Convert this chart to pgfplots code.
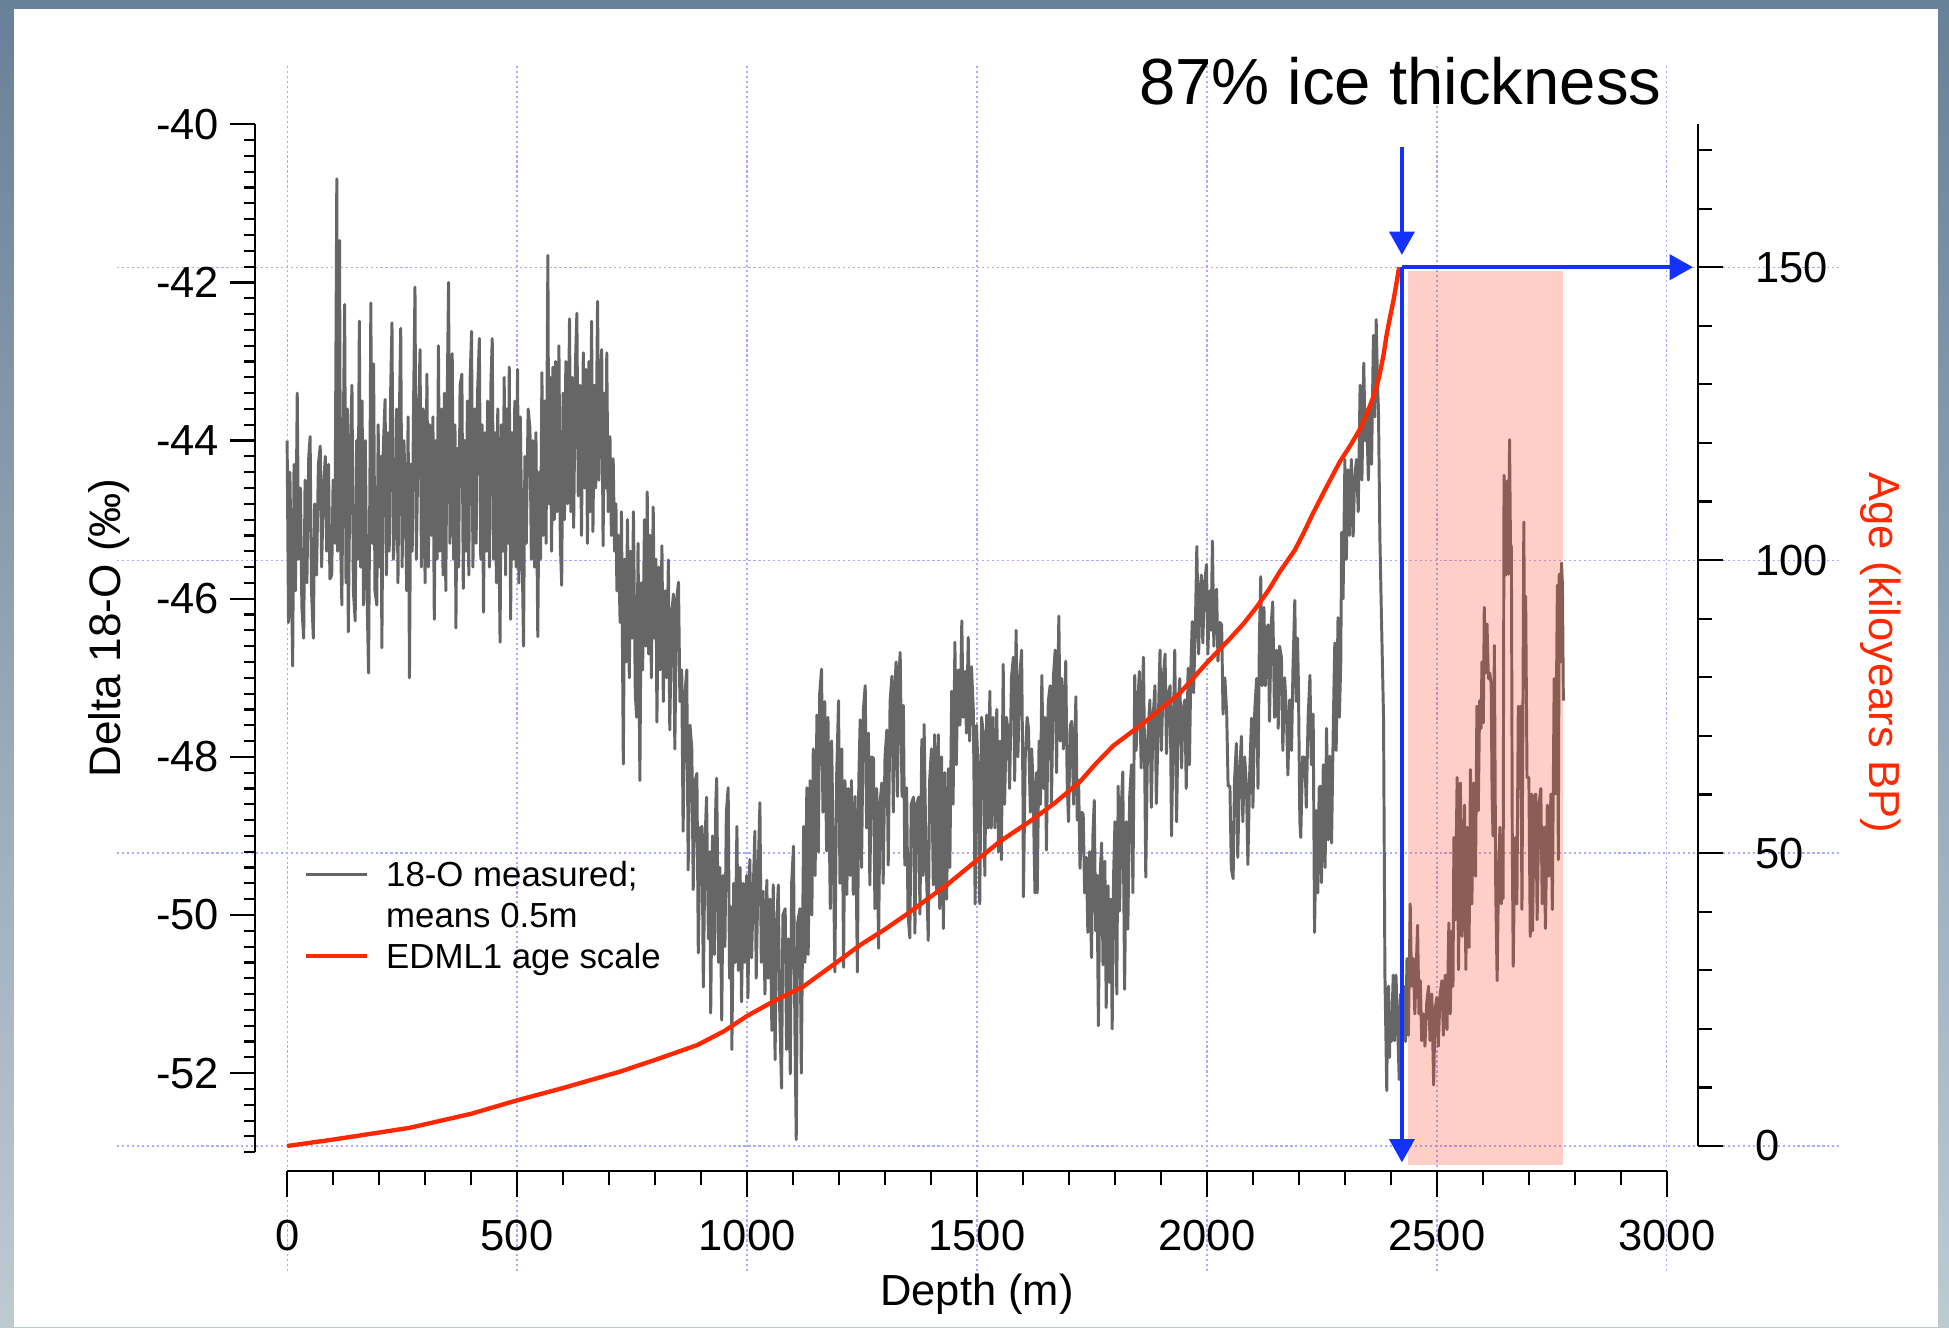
\documentclass[border=0pt]{standalone}
\usepackage{fontspec}
\setmainfont{Liberation Sans}
\usepackage{pgfplots}
\pgfplotsset{compat=1.18}
\usetikzlibrary{arrows.meta}
\definecolor{bgtop}{RGB}{104,128,152}
\definecolor{bgbot}{RGB}{190,202,210}
\definecolor{gridc}{RGB}{170,170,255}
\definecolor{dgray}{RGB}{102,102,102}
\definecolor{agered}{RGB}{255,40,0}
\definecolor{arrowblue}{RGB}{20,50,255}
\definecolor{pinkfill}{RGB}{255,67,35}
\tikzset{gridl/.style={color=gridc, line width=0.4pt, dash pattern=on 0.7pt off 0.9pt},
  barrow/.style={arrowblue, line width=1.3pt, -{Triangle[width=8pt,length=7.5pt]}}}
\pgfplotsset{
  myax/.style={scale only axis, tick align=outside,
    axis line style={-, line width=0.7pt, black},
    every tick/.style={black, line width=0.7pt},
    /pgf/number format/assume math mode=true,
    /pgf/number format/set thousands separator={},
    tick label style={font=\fontsize{14}{16}\selectfont},
    label style={font=\fontsize{14}{16}\selectfont}}
}
\begin{document}
\begin{tikzpicture}
\shade[top color=bgtop,bottom color=bgbot] (0pt,0pt) rectangle (627.2pt,427.2pt);
\fill[white] (4.4pt,0pt) rectangle (623.6pt,424.4pt);

% grid axis
\begin{axis}[at={(92.4pt,58.4pt)},anchor=south west,scale only axis,width=454pt,height=328.8pt,
  xmin=0,xmax=3067.6,ymin=0,ymax=174.4,hide axis,clip=false]
\pgfplotsinvokeforeach{0,500,1000,1500,2000,2500,3000}{\draw[gridl] (axis cs:#1,-21.4) -- (axis cs:#1,184.8);}
\pgfplotsinvokeforeach{0,50,100,150}{\draw[gridl] (axis cs:-370,#1) -- (axis cs:3376,#1);}
\end{axis}

% left axis with isotope data
\begin{axis}[myax, at={(82pt,56.4pt)},anchor=south west,width=454.4pt,height=330.8pt,
  xmin=-70.27,xmax=3000,ymin=-53,ymax=-40,
  hide x axis, axis y line*=left,
  ytick={-52,-50,...,-40}, minor ytick={-53,-52.8,...,-40.1},
  major tick length=8pt, minor tick length=3.6pt,
  ylabel={Delta 18-O (‰)},
  ylabel style={font=\fontsize{14.2}{16}\selectfont, at={(axis description cs:-0.103,0.51)}, anchor=center},
  legend style={draw=none, fill=none, at={(axis description cs:0.0345,0.291)}, anchor=north west,
    font=\fontsize{11.2}{13.2}\selectfont, row sep=0pt, inner sep=0pt, column sep=5.4pt,
    nodes={inner sep=0pt, text height=10.6pt, text depth=2.6pt}},
  legend cell align=left,
  legend image code/.code={\draw[#1] (0pt,0pt) -- (19.6pt,0pt);}]
\addplot[dgray, line width=0.95pt, line join=round] coordinates {
(0,-44.0)(3,-46.3)(6,-44.4)(9,-45.6)(12,-46.85)(15,-44.3)(18,-45.9)(22,-43.4)(25,-45.5)(29,-44.6)(32,-46.1)(36,-46.5)(39,-44.5)(43,-45.8)(47,-44.2)(50,-43.95)(53,-45.9)(57,-46.5)(60,-44.8)(64,-45.7)(68,-44.3)(72,-44.07)(75,-45.6)(79,-44.6)(83,-44.2)(86,-45.4)(90,-44.3)(93,-45.75)(97,-45.7)(100,-44.5)(104,-45.3)(108,-40.69)(110,-45.4)(114,-41.47)(116,-45.2)(119,-46.08)(122,-44.0)(125,-42.28)(128,-45.8)(131,-43.6)(133,-46.42)(137,-44.2)(141,-43.3)(144,-45.9)(148,-46.28)(151,-44.0)(154,-45.5)(157,-42.49)(160,-45.6)(163,-43.5)(166,-46.08)(170,-44.0)(173,-45.7)(177,-46.94)(180,-44.5)(182,-42.26)(185,-45.3)(188,-43.03)(191,-45.9)(195,-46.08)(198,-43.8)(201,-45.6)(204,-44.2)(206,-46.62)(209,-44.1)(213,-43.48)(216,-45.7)(219,-43.9)(222,-45.4)(225,-43.4)(228,-42.51)(231,-45.5)(235,-45.0)(238,-43.6)(241,-45.8)(244,-43.7)(247,-42.58)(250,-45.6)(254,-44.0)(257,-44.7)(260,-45.9)(263,-43.7)(266,-47.0)(269,-44.3)(272,-45.4)(275,-43.5)(278,-42.06)(281,-45.5)(285,-43.9)(289,-42.85)(292,-45.6)(296,-43.6)(300,-45.8)
(304,-43.16)(307,-45.6)(310,-43.8)(314,-45.2)(317,-43.7)(320,-46.26)(323,-44.0)(326,-45.5)(329,-42.8)(332,-45.4)(336,-43.6)(339,-45.7)(342,-43.4)(345,-45.9)(348,-43.5)(351,-42.0)(354,-45.3)(357,-43.9)(359,-42.9)(362,-45.5)(365,-43.8)(367,-46.37)(370,-44.1)(373,-45.6)(376,-43.3)(380,-43.16)(383,-45.87)(386,-44.0)(389,-45.4)(392,-43.5)(395,-45.7)(398,-43.2)(401,-42.62)(404,-45.6)(408,-43.6)(411,-45.3)(414,-43.4)(418,-42.71)(421,-45.5)(424,-43.8)(427,-46.17)(430,-43.9)(433,-45.4)(436,-43.5)(440,-45.6)(443,-43.3)(446,-42.71)(449,-45.5)(452,-43.9)(455,-45.8)(458,-43.6)(461,-45.5)(463,-46.55)(466,-43.8)(469,-45.4)(472,-43.2)(475,-45.7)(478,-43.6)(481,-45.3)(483,-43.07)(486,-46.26)(489,-43.9)(492,-45.5)(495,-43.5)(498,-45.6)(501,-43.1)(504,-45.8)(507,-43.7)(511,-45.4)(514,-46.6)(517,-44.2)(520,-45.3)(524,-43.6)(528,-43.84)(531,-45.5)(534,-44.0)(538,-45.6)(541,-43.9)(545,-46.48)(548,-44.4)(551,-45.5)(554,-43.14)(557,-45.2)(560,-43.5)(563,-45.3)(567,-41.66)(569,-44.8)(572,-43.2)(575,-45.4)(578,-43.07)(581,-45.0)(584,-43.0)(587,-44.9)(591,-42.8)(594,-45.3)(597,-45.83)(600,-43.4)
(603,-45.0)(606,-43.0)(610,-44.8)(614,-42.46)(617,-44.9)(620,-43.2)(623,-45.1)(627,-43.0)(630,-42.39)(633,-44.7)(637,-43.3)(640,-45.2)(644,-42.89)(647,-44.6)(650,-43.1)(653,-45.3)(656,-43.0)(659,-44.9)(662,-42.49)(665,-45.15)(668,-43.3)(671,-44.6)(675,-42.24)(678,-44.5)(681,-43.2)(684,-42.85)(687,-45.33)(690,-43.4)(693,-44.6)(695,-42.89)(698,-44.9)(702,-43.95)(705,-45.2)(709,-44.23)(712,-45.4)(715,-44.8)(717,-45.9)
(720,-45.2)(724,-46.3)(727,-44.9)(731,-48.09)(734,-45.5)(737,-46.8)(740,-45.0)(744,-47.0)(747,-45.4)(750,-46.5)(753,-44.9)(757,-47.2)(760,-47.5)(763,-45.3)(767,-48.3)(770,-45.8)(773,-46.9)(777,-45.0)(780,-46.6)(783,-44.65)(786,-46.7)(789,-45.2)(792,-47.0)(796,-44.84)(799,-46.5)(802,-45.5)(804,-47.56)(808,-45.6)(811,-46.9)(815,-45.33)(818,-47.3)(822,-45.9)(825,-47.0)(829,-45.51)(832,-47.66)(836,-46.2)(840,-45.94)(843,-47.9)(847,-46.0)(851,-45.79)(854,-47.3)(858,-46.9)(861,-48.94)(865,-47.2)(869,-46.9)(872,-49.43)(876,-47.6)(880,-47.9)(883,-49.68)(887,-48.3)(891,-48.21)(894,-50.48)(898,-48.9)(902,-48.88)(905,-50.91)(909,-49.0)(912,-48.51)(916,-50.3)(919,-49.2)(921,-51.24)(925,-49.0)(929,-50.5)(932,-48.6)(934,-48.27)(938,-50.6)(941,-49.4)(945,-51.33)(948,-49.5)(952,-50.4)(955,-48.7)(959,-48.39)(962,-50.8)(965,-49.9)(967,-51.7)(971,-49.6)(974,-50.6)(978,-48.88)(981,-50.7)(985,-49.4)(988,-51.1)(992,-49.6)(995,-50.6)(999,-49.5)
(1002,-51.05)(1006,-49.3)(1010,-50.54)(1013,-49.8)(1017,-48.94)(1020,-50.8)(1024,-49.5)(1028,-48.58)(1031,-50.6)(1035,-49.7)(1039,-51.0)(1043,-49.56)(1046,-50.8)(1050,-49.8)(1054,-51.46)(1057,-49.62)(1061,-51.83)(1064,-50.2)(1068,-49.62)(1071,-51.2)(1075,-52.19)(1078,-50.0)(1083,-49.92)(1086,-51.7)(1090,-50.3)(1094,-52.01)(1097,-49.6)(1101,-49.13)(1104,-51.4)(1107,-52.84)(1110,-50.1)(1115,-49.92)(1118,-52.0)(1123,-48.88)(1126,-50.6)(1130,-48.39)(1133,-50.5)(1137,-48.3)(1141,-50.0)(1144,-47.9)(1148,-49.5)(1152,-47.47)(1155,-49.2)(1158,-47.2)(1162,-46.89)(1165,-48.7)(1169,-47.3)(1173,-49.19)(1176,-47.5)(1181,-49.92)(1184,-47.8)(1188,-49.4)(1191,-50.72)(1195,-48.2)(1199,-47.29)(1202,-49.6)(1206,-47.9)(1210,-50.66)(1213,-48.3)(1217,-49.74)(1220,-48.4)(1224,-49.5)(1227,-48.3)(1231,-49.74)(1235,-48.5)(1240,-50.72)(1243,-48.3)(1246,-47.53)(1249,-49.4)(1253,-47.4)(1257,-47.1)(1260,-48.9)(1264,-47.7)(1267,-49.62)(1271,-48.0)(1275,-48.02)(1278,-49.92)(1282,-48.4)(1286,-50.42)(1289,-48.6)(1293,-48.33)(1296,-49.6)(1300,-48.0)
(1304,-47.66)(1307,-49.37)(1311,-47.3)(1315,-46.98)(1318,-48.7)(1321,-47.2)(1324,-46.8)(1327,-48.5)(1330,-47.0)(1333,-46.68)(1337,-48.5)(1340,-47.35)(1343,-49.37)(1347,-48.39)(1350,-49.99)(1354,-50.29)(1357,-48.6)(1362,-48.51)(1365,-50.23)(1369,-48.6)(1373,-48.51)(1376,-49.99)(1380,-47.78)(1383,-49.5)(1385,-47.59)(1389,-49.2)(1394,-50.32)(1397,-48.3)(1401,-47.9)(1405,-49.62)(1408,-47.72)(1412,-49.7)(1416,-47.72)(1419,-49.92)(1423,-48.0)(1427,-50.17)(1430,-48.2)(1434,-49.8)(1438,-48.15)(1441,-49.4)(1445,-47.17)(1448,-48.6)(1452,-46.55)(1455,-48.1)(1459,-46.9)(1463,-47.6)(1467,-46.28)(1470,-47.5)(1474,-46.92)(1477,-47.7)(1481,-46.49)(1484,-47.8)(1488,-46.86)(1492,-47.4)(1496,-49.86)(1499,-47.6)(1503,-48.27)(1506,-49.86)(1510,-47.5)(1514,-47.72)(1517,-49.5)(1521,-47.47)(1524,-48.9)(1528,-47.17)(1531,-48.9)(1535,-47.5)(1539,-48.9)(1543,-47.4)(1547,-49.2)
(1550,-47.8)(1553,-49.3)(1557,-46.83)(1560,-48.6)(1564,-47.5)(1568,-47.69)(1571,-48.4)(1575,-47.0)(1579,-46.74)(1582,-48.3)(1585,-46.4)(1589,-48.0)(1593,-47.0)(1597,-46.65)(1600,-48.5)(1601,-49.77)(1605,-48.0)(1609,-47.5)(1612,-47.64)(1616,-48.7)(1619,-47.9)(1622,-48.37)(1626,-49.72)(1629,-48.2)(1631,-49.72)(1635,-47.8)(1638,-48.6)(1641,-46.97)(1645,-48.4)(1648,-47.5)(1651,-49.18)(1655,-47.3)(1659,-47.1)(1662,-48.6)(1666,-47.0)(1670,-46.65)(1673,-48.2)(1678,-46.22)(1681,-47.8)(1684,-47.01)(1688,-47.9)(1693,-46.79)(1696,-48.3)(1699,-48.82)(1703,-47.6)(1706,-47.55)(1710,-48.6)(1715,-47.24)(1718,-48.8)(1721,-48.3)(1724,-49.41)(1728,-48.7)(1731,-48.73)(1734,-49.72)(1738,-49.27)(1741,-50.22)(1745,-49.2)(1749,-50.54)(1752,-49.0)(1755,-48.55)(1758,-50.2)(1761,-49.5)(1764,-51.4)(1767,-49.6)(1771,-49.09)(1774,-50.63)(1778,-49.32)(1781,-51.17)(1785,-49.63)(1788,-50.85)(1791,-49.8)(1794,-51.44)(1797,-49.5)(1800,-48.82)
(1804,-51.0)(1807,-48.37)(1810,-49.95)(1814,-48.6)(1817,-48.19)(1821,-50.94)(1825,-48.82)(1828,-50.18)(1832,-48.5)(1836,-48.1)(1839,-49.72)(1843,-46.97)(1846,-47.92)(1850,-47.3)(1853,-46.92)(1857,-48.14)(1860,-47.1)(1862,-46.74)(1865,-48.3)(1867,-49.52)(1871,-47.8)(1876,-47.28)(1879,-48.64)(1883,-47.5)(1887,-47.1)(1890,-48.59)(1894,-47.6)(1898,-46.65)(1901,-47.92)(1905,-47.0)(1909,-46.7)(1912,-47.96)(1916,-47.2)(1920,-47.1)(1923,-49.0)(1927,-47.6)(1930,-46.65)(1934,-48.82)(1938,-47.3)(1941,-47.01)(1945,-48.14)(1948,-47.4)(1952,-47.28)(1955,-48.4)(1959,-46.88)(1962,-48.1)(1965,-46.9)(1968,-46.29)(1971,-47.19)(1975,-46.3)(1978,-45.34)(1982,-46.7)(1985,-45.9)(1988,-45.7)(1991,-46.56)(1995,-45.8)(1999,-45.57)
(2002,-46.7)(2006,-45.9)(2009,-46.4)(2012,-45.27)(2015,-46.6)(2018,-46.0)(2021,-45.88)(2024,-46.79)(2028,-46.3)(2032,-46.33)(2035,-47.46)(2039,-47.0)(2043,-47.46)(2046,-48.37)(2050,-48.37)(2053,-49.41)(2057,-49.54)(2060,-48.3)(2064,-47.83)(2067,-49.27)(2071,-48.2)(2075,-47.74)(2078,-48.82)(2082,-48.0)(2086,-48.37)(2089,-49.36)(2093,-48.2)(2097,-47.51)(2100,-48.64)(2104,-47.4)(2108,-47.01)(2111,-48.4)(2114,-46.5)(2117,-45.72)(2120,-47.1)(2124,-46.11)(2127,-47.1)(2130,-46.4)(2133,-46.33)(2136,-47.55)(2140,-46.3)(2143,-46.04)(2147,-47.5)(2151,-46.65)(2155,-47.64)(2158,-46.6)(2162,-46.74)(2165,-47.92)(2169,-47.0)(2173,-47.46)(2176,-48.23)(2180,-47.28)(2184,-47.92)(2187,-46.9)(2191,-46.02)(2194,-47.3)(2197,-46.5)(2199,-47.1)(2202,-48.82)(2204,-49.02)(2208,-48.0)(2213,-48.01)(2216,-48.64)(2220,-47.5)(2224,-46.97)(2227,-48.1)(2231,-47.46)(2234,-50.22)(2238,-48.68)(2241,-49.72)(2244,-48.4)(2246,-48.37)(2249,-49.59)(2253,-48.1)(2257,-49.4)(2260,-47.64)(2264,-49.05)(2267,-47.99)(2271,-49.09)(2275,-47.5)(2278,-46.56)(2281,-47.92)(2285,-46.24)(2288,-47.5)(2291,-46.8)(2293,-45.16)
(2296,-46.0)(2300,-44.24)(2303,-45.5)(2307,-44.37)(2310,-45.2)(2314,-44.24)(2318,-45.21)(2321,-44.5)(2325,-44.24)(2329,-44.9)(2333,-43.3)(2337,-44.5)(2341,-43.02)(2344,-44.0)(2347,-43.61)(2351,-44.5)(2355,-43.54)(2358,-44.3)(2362,-42.67)(2365,-43.7)(2368,-42.47)(2371,-43.3)(2373,-43.61)(2376,-45.21)(2380,-46.39)(2384,-47.5)(2387,-50.76)(2391,-52.22)(2393,-51.0)(2395,-50.9)(2397,-51.8)(2398,-51.25)(2401,-51.6)(2405,-50.76)(2408,-51.59)(2411,-50.76)(2414,-51.25)(2418,-52.08)(2421,-51.0)(2424,-51.3)(2428,-50.9)(2432,-51.6)(2435,-50.55)(2438,-51.52)(2442,-49.86)(2445,-50.9)(2449,-50.55)(2452,-51.25)(2458,-50.13)(2461,-51.25)(2464,-50.83)(2467,-51.59)(2471,-51.25)(2474,-51.66)(2478,-51.1)(2482,-50.9)(2485,-51.59)(2489,-51.0)(2493,-52.15)(2496,-51.2)(2500,-51.04)(2503,-51.66)(2507,-51.0)(2511,-50.83)(2514,-51.52)(2518,-50.76)(2522,-51.45)(2526,-50.1)(2529,-51.25)(2533,-50.2)(2535,-50.9)(2537,-49.02)(2540,-50.06)(2544,-48.26)(2547,-50.69)(2551,-48.33)(2555,-50.27)(2560,-48.61)(2563,-50.69)(2566,-48.89)(2570,-50.41)(2573,-48.16)(2576,-49.86)(2580,-48.33)(2584,-49.51)(2587,-47.36)(2590,-48.68)(2593,-47.29)(2596,-47.64)(2598,-46.8)
(2601,-47.57)(2603,-46.11)(2606,-46.94)(2609,-46.32)(2612,-47.01)(2615,-46.94)(2618,-47.08)(2620,-48.47)(2622,-49.0)(2625,-46.59)(2628,-49.72)(2631,-50.83)(2634,-49.5)(2637,-48.89)(2640,-49.86)(2642,-49.16)(2644,-49.79)(2646,-44.44)(2650,-45.7)(2653,-44.51)(2656,-45.69)(2658,-43.99)(2660,-45.3)(2662,-45.35)(2664,-49.16)(2666,-50.65)(2669,-49.3)(2671,-49.02)(2674,-49.86)(2677,-47.36)(2679,-48.4)(2682,-47.36)(2685,-49.93)(2689,-45.03)(2691,-47.0)(2693,-45.97)(2696,-48.26)(2700,-48.26)(2703,-50.27)(2706,-48.47)(2708,-50.2)(2712,-48.5)(2715,-48.47)(2718,-50.06)(2722,-48.6)(2726,-48.4)(2729,-49.86)(2733,-48.89)(2736,-50.17)(2740,-48.61)(2743,-49.51)(2748,-48.47)(2751,-49.93)(2755,-47.01)(2758,-48.47)(2762,-45.83)(2764,-49.3)(2766,-45.69)(2769,-46.8)(2771,-45.55)(2773,-45.83)(2775,-47.29)
};
\addlegendentry{18-O measured;}
\addlegendimage{empty legend}
\addlegendentry{means 0.5m}
\addlegendimage{agered, line width=1.4pt}
\addlegendentry{EDML1 age scale}
\end{axis}

% right axis with age scale
\begin{axis}[myax, at={(92.4pt,58.4pt)},anchor=south west,width=454pt,height=328.8pt,
  xmin=0,xmax=3067.6,ymin=0,ymax=174.4, clip=false,
  hide x axis, axis y line*=right,
  ytick={0,50,100,150}, minor ytick={10,20,...,170},
  major tick length=8pt, minor tick length=4.4pt,
  yticklabel style={anchor=west, xshift=7pt},
  ylabel={Age (kiloyears BP)},
  ylabel style={color=agered, rotate=180, at={(axis description cs:1.1295,0.483)}, anchor=center}]
\fill[pinkfill, opacity=0.25] (axis cs:2437,-3.2) rectangle (axis cs:2775,149.4);
\addplot[agered, line width=1.4pt, line join=round] coordinates {
(0,0)(100,1.1)(200,2.3)(266,3.1)(400,5.5)(500,7.8)(600,9.9)(724,12.7)(800,14.7)(891,17.2)(950,19.6)(1000,22.2)(1060,24.8)(1122,27.2)(1180,30.5)(1246,34.3)(1300,37.0)(1348,39.6)(1435,44.6)(1500,48.8)(1550,52.0)(1615,55.4)(1670,58.6)(1724,62.2)(1760,65.4)(1796,68.3)(1869,72.6)(1941,77.3)(2000,82.5)(2050,86.6)(2080,89.2)(2108,92.0)(2135,95.0)(2159,98.1)(2191,101.7)(2210,104.6)(2230,107.9)(2260,112.5)(2289,116.8)(2312,119.6)(2333,122.4)(2348,125.0)(2359,127.3)(2368,129.3)(2375,131.5)(2384,135.0)(2391,138.6)(2399,141.8)(2406,144.5)(2412,147.2)(2418,150)
};
\draw[barrow] (axis cs:2424,170.6) -- (axis cs:2424,152.1);
\draw[barrow] (axis cs:2424,150) -- (axis cs:3057,150);
\draw[barrow] (axis cs:2424,150) -- (axis cs:2424,-2.8);
\end{axis}

% bottom depth axis
\begin{axis}[myax, at={(92.4pt,50.4pt)},anchor=south west,width=444pt,height=20pt,
  xmin=0,xmax=3000,ymin=0,ymax=1,
  hide y axis, axis x line*=bottom,
  xtick={0,500,...,3000}, minor xtick={100,200,...,2900},
  major tick length=8.4pt, minor tick length=4.4pt,
  xticklabel style={yshift=-4pt},
  xlabel={Depth (m)},
  xlabel style={at={(axis description cs:0.5,0)}, yshift=-39.6pt, anchor=center}]
\end{axis}

\node[anchor=base, font=\fontsize{21}{25}\selectfont] at (450.6pt,393.6pt) {87\% ice thickness};
\end{tikzpicture}
\end{document}
